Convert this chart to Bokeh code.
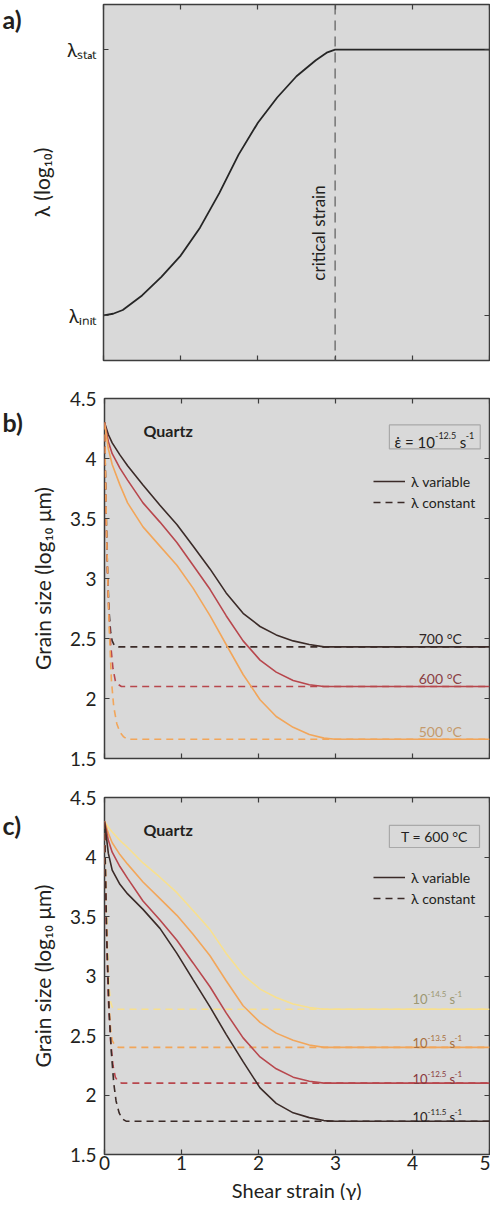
import math
from bokeh.plotting import figure
from bokeh.layouts import column, row
from bokeh.models import (Range1d, LinearAxis, FixedTicker, Label, Span, Legend,
                          LegendItem, BoxAnnotation)
from bokeh.embed import file_html
from bokeh.resources import INLINE

FONT = "Lato"
INK = "#231f20"
EDGE = "#3d3d3d"
PANEL_BG = "#d9d9d9"

# ---------------- data ----------------
# axes
strain_ticks = [0, 1, 2, 3, 4, 5]
grain_ticks = [1.5, 2.0, 2.5, 3.0, 3.5, 4.0, 4.5]

# (a) schematic evolution of lambda (0 = lambda_init, 1 = lambda_stat)
a_strain = [0.0, 0.125, 0.25, 0.5, 0.75, 1.0, 1.25, 1.5, 1.75, 2.0, 2.25, 2.5, 2.75, 2.9, 3.0, 5.0]
a_lambda = [0.0, 0.006, 0.02, 0.075, 0.145, 0.225, 0.33, 0.46, 0.605, 0.725, 0.82, 0.90, 0.96, 0.99, 1.0, 1.0]
a_tick_values = [0.0, 1.0]
a_tick_names = ["λᵢₙᵢₜ", "λₛₜₐₜ"]
critical_strain = 3.0

# (b) Quartz, strain rate 10^-12.5 s^-1, three temperatures
b_names = ["700 °C", "600 °C", "500 °C"]
b_var_x = [0, 0.05, 0.1, 0.2, 0.3, 0.5, 0.72, 0.94, 1.15, 1.37, 1.58, 1.8, 2.02, 2.23, 2.45, 2.66, 2.85, 3.0, 5.0]
b_var_700 = [4.3, 4.2, 4.13, 4.03, 3.94, 3.78, 3.61, 3.45, 3.27, 3.08, 2.88, 2.71, 2.60, 2.53, 2.48, 2.45, 2.43, 2.43, 2.43]
b_var_600 = [4.3, 4.14, 4.04, 3.92, 3.82, 3.63, 3.47, 3.30, 3.11, 2.91, 2.69, 2.48, 2.32, 2.22, 2.15, 2.115, 2.10, 2.10, 2.10]
b_var_500 = [4.3, 4.08, 3.95, 3.78, 3.63, 3.43, 3.27, 3.11, 2.92, 2.69, 2.45, 2.20, 1.99, 1.85, 1.76, 1.70, 1.67, 1.66, 1.66]
b_const_x_700 = [0, 0.02, 0.04, 0.06, 0.08, 0.1, 0.13, 0.18, 5.0]
b_const_700 = [4.3, 3.6, 3.05, 2.72, 2.55, 2.48, 2.44, 2.43, 2.43]
b_const_x_600 = [0, 0.02, 0.05, 0.08, 0.11, 0.14, 0.17, 0.22, 5.0]
b_const_600 = [4.3, 3.5, 2.8, 2.45, 2.25, 2.15, 2.12, 2.10, 2.10]
b_const_x_500 = [0, 0.03, 0.06, 0.09, 0.12, 0.16, 0.2, 0.25, 0.3, 5.0]
b_const_500 = [4.3, 3.3, 2.6, 2.15, 1.93, 1.79, 1.72, 1.68, 1.66, 1.66]

# (c) Quartz, T = 600 °C, four strain rates (exponents of 10, s^-1)
c_rates = ["-14.5", "-13.5", "-12.5", "-11.5"]
c_var_x = [0, 0.05, 0.1, 0.2, 0.3, 0.5, 0.72, 0.94, 1.15, 1.37, 1.58, 1.8, 2.02, 2.23, 2.45, 2.66, 2.85, 3.0, 5.0]
c_var_145 = [4.3, 4.25, 4.21, 4.14, 4.08, 3.95, 3.83, 3.70, 3.55, 3.39, 3.19, 3.01, 2.89, 2.82, 2.765, 2.735, 2.72, 2.72, 2.72]
c_var_135 = [4.3, 4.2, 4.12, 4.02, 3.94, 3.79, 3.65, 3.51, 3.35, 3.17, 2.96, 2.75, 2.61, 2.52, 2.46, 2.42, 2.40, 2.40, 2.40]
c_var_125 = [4.3, 4.14, 4.04, 3.92, 3.82, 3.63, 3.47, 3.30, 3.11, 2.91, 2.69, 2.48, 2.32, 2.22, 2.15, 2.115, 2.10, 2.10, 2.10]
c_var_115 = [4.3, 4.03, 3.89, 3.77, 3.69, 3.56, 3.40, 3.19, 2.97, 2.74, 2.51, 2.28, 2.06, 1.93, 1.85, 1.81, 1.785, 1.78, 1.78]
c_const_x_145 = [0, 0.02, 0.04, 0.06, 0.08, 0.1, 0.15, 5.0]
c_const_145 = [4.3, 3.7, 3.2, 2.9, 2.78, 2.74, 2.72, 2.72]
c_const_x_135 = [0, 0.02, 0.04, 0.06, 0.08, 0.1, 0.13, 0.18, 5.0]
c_const_135 = [4.3, 3.6, 3.1, 2.75, 2.55, 2.46, 2.42, 2.40, 2.40]
c_const_x_125 = [0, 0.02, 0.05, 0.08, 0.11, 0.14, 0.17, 0.22, 5.0]
c_const_125 = [4.3, 3.5, 2.8, 2.45, 2.25, 2.15, 2.12, 2.10, 2.10]
c_const_x_115 = [0, 0.03, 0.06, 0.09, 0.12, 0.15, 0.19, 0.23, 0.28, 5.0]
c_const_115 = [4.3, 3.3, 2.7, 2.35, 2.1, 1.95, 1.85, 1.80, 1.78, 1.78]
x_title = "Shear strain (γ)"

# ---------------- styles ----------------
DARK = "#3b2b28"
RED = "#b8474d"
ORANGE = "#f2a65a"
YELLOW = "#f8e08e"
b_colors = [DARK, RED, ORANGE]
b_text_colors = ["#2f2626", "#8a4043", "#c49a6c"]
c_colors = [YELLOW, ORANGE, RED, DARK]
c_text_colors = ["#9c9772", "#a8703e", "#8a3a3e", "#2b2322"]
c_label_lift = [14, 8, 8, 8]
DASH = "7 5"
TICK_SIZE = "19px"
LABEL_SIZE = "21px"
LETTER_W = 26

CHAR_W = {str(d): 0.58 for d in range(10)}
CHAR_W.update({".": 0.25, "-": 0.32, " ": 0.26, "s": 0.40, "=": 0.58,
               "ε": 0.45, "\u0307": 0.0, "T": 0.55, "°": 0.40, "C": 0.67})


def text_w(s, size):
    return sum(CHAR_W.get(ch, 0.55) for ch in s) * size


def style_axis(ax, ticks, show_labels, standoff=8):
    ax.axis_line_alpha = 0
    ax.major_tick_in = 5
    ax.major_tick_out = 0
    ax.minor_tick_in = 5
    ax.minor_tick_out = 0
    ax.major_tick_line_color = EDGE
    ax.minor_tick_line_color = EDGE
    ax.major_tick_line_width = 1.2
    ax.minor_tick_line_width = 1.2
    ax.axis_label_text_font = FONT
    ax.axis_label_text_font_style = "normal"
    ax.axis_label_text_color = INK
    ax.axis_label_text_font_size = LABEL_SIZE
    ax.major_label_text_font = FONT
    ax.major_label_text_font_size = TICK_SIZE
    ax.major_label_text_color = INK
    if show_labels:
        ax.ticker = FixedTicker(ticks=ticks)
        ax.major_label_standoff = standoff
    else:
        # ticks only, no labels: draw them as minor ticks
        ax.ticker = FixedTicker(ticks=[], minor_ticks=ticks)
        ax.major_label_standoff = 0


def make_panel(height, b_top, b_bottom, y_start, y_end, y_ticks, show_x):
    p = figure(width=490 - LETTER_W, height=height, x_range=Range1d(0, 5),
               y_range=Range1d(y_start, y_end), output_backend="svg",
               toolbar_location=None, min_border_left=103 - LETTER_W, min_border_right=1,
               min_border_top=b_top, min_border_bottom=b_bottom,
               background_fill_color=PANEL_BG, border_fill_color="white",
               outline_line_color=EDGE, outline_line_width=1.5)
    p.grid.visible = False
    p.add_layout(LinearAxis(), "above")
    p.add_layout(LinearAxis(), "right")
    style_axis(p.below[0], strain_ticks, show_x, standoff=3)
    style_axis(p.above[0], strain_ticks, False)
    style_axis(p.left[0], y_ticks, True)
    style_axis(p.right[0], y_ticks, False)
    return p


def letter_fig(height, letter, drop):
    f = figure(width=LETTER_W, height=height, x_range=Range1d(0, LETTER_W),
               y_range=Range1d(0, height), output_backend="svg", toolbar_location=None,
               min_border=0, x_axis_type=None, y_axis_type=None, outline_line_color=None,
               background_fill_color="white", border_fill_color="white")
    f.grid.visible = False
    f.add_layout(Label(x=2, y=height - drop, text=letter, text_font=FONT,
                       text_font_style="bold", text_font_size="25px", text_color=INK,
                       text_baseline="middle", text_align="left"))
    return f


def add_rich(p, x, y, pieces, align, x_pad, base_off, color, main_size, sup_size, rise):
    widths = []
    for t, sup, gap in pieces:
        sz = sup_size if sup else main_size
        widths.append((gap * main_size, text_w(t, sz)))
    total = sum(g + w for g, w in widths)
    cur = x_pad - total if align == "right" else x_pad
    for (t, sup, gap), (g, w) in zip(pieces, widths):
        cur += g
        p.add_layout(Label(x=x, y=y, x_offset=cur, y_offset=base_off + (rise if sup else 0),
                           text=t, text_align="left", text_baseline="alphabetic",
                           text_font=FONT, text_font_size=f"{sup_size if sup else main_size}px",
                           text_color=color))
        cur += w


def add_quartz(p):
    p.add_layout(Label(x=0, y=4.5, x_offset=39, y_offset=-32, text="Quartz",
                       text_font=FONT, text_font_style="bold", text_font_size="16px",
                       text_color=INK, text_baseline="middle"))


def add_legend(p, r_var, r_const):
    leg = Legend(items=[LegendItem(label="λ variable", renderers=[r_var]),
                        LegendItem(label="λ constant", renderers=[r_const])],
                 location=(269, 246), border_line_alpha=0, background_fill_alpha=0,
                 label_text_font=FONT, label_text_font_size="14px", label_text_color=INK,
                 glyph_width=32, glyph_height=20, label_height=20, spacing=1,
                 padding=0, margin=0, label_standoff=6)
    p.add_layout(leg)


# ---------------- panel a ----------------
pa = make_panel(380, 4, 20, -0.17, 1.17, a_tick_values, False)
pa.left[0].major_label_overrides = {v: n for v, n in zip(a_tick_values, a_tick_names)}
pa.left[0].major_label_standoff = 7
pa.left[0].axis_label = "λ (log₁₀)"
pa.left[0].axis_label_standoff = 10
pa.line(a_strain, a_lambda, line_color="#262626", line_width=1.8)
pa.add_layout(Span(location=critical_strain, dimension="height", line_color="#5a5a5a",
                   line_dash="10 6", line_width=1.2))
pa.add_layout(Label(x=critical_strain, y=0.31, x_offset=-6, angle=math.pi / 2,
                    text="critical strain", text_align="center", text_baseline="bottom",
                    text_font=FONT, text_font_size="17px", text_color=INK))

# ---------------- panel b ----------------
pb = make_panel(398, 18, 20, 1.5, 4.5, grain_ticks, False)
pb.left[0].axis_label = "Grain size (log₁₀ μm)"
pb.left[0].axis_label_standoff = 12
b_const = [(b_const_x_700, b_const_700), (b_const_x_600, b_const_600), (b_const_x_500, b_const_500)]
b_var = [b_var_700, b_var_600, b_var_500]
b_const_r = []
for (xs, ys), col in zip(b_const, b_colors):
    b_const_r.append(pb.line(xs, ys, line_color=col, line_width=1.6, line_dash=DASH))
b_var_r = []
for ys, col in zip(b_var, b_colors):
    b_var_r.append(pb.line(b_var_x, ys, line_color=col, line_width=1.6))
for name, ys, tcol in zip(b_names, b_var, b_text_colors):
    pb.add_layout(Label(x=4.64, y=ys[-1], y_offset=8, text=name, text_align="right",
                        text_baseline="middle", text_font=FONT, text_font_size="14px",
                        text_color=tcol))
add_quartz(pb)
pb.add_layout(BoxAnnotation(left=3.70, right=4.88, top=4.28, bottom=4.08, fill_alpha=0,
                            line_color=EDGE, line_width=1.2))
add_rich(pb, 3.70, 4.18, [("ε\u0307 = 10", False, 0), ("-12.5", True, 0),
                          ("s", False, 0.26), ("-1", True, 0)],
         "left", 5, -5, INK, 15, 9, 6)
add_legend(pb, b_var_r[0], b_const_r[0])

# ---------------- panel c ----------------
pc = make_panel(400, 19, 24, 1.5, 4.5, grain_ticks, True)
pc.left[0].axis_label = "Grain size (log₁₀ μm)"
pc.left[0].axis_label_standoff = 12
pc.below[0].major_label_standoff = 1
c_const = [(c_const_x_145, c_const_145), (c_const_x_135, c_const_135),
           (c_const_x_125, c_const_125), (c_const_x_115, c_const_115)]
c_var = [c_var_145, c_var_135, c_var_125, c_var_115]
c_const_r = []
for (xs, ys), col in zip(c_const, c_colors):
    c_const_r.append(pc.line(xs, ys, line_color=col, line_width=1.6, line_dash=DASH))
c_var_r = []
for ys, col in zip(c_var, c_colors):
    c_var_r.append(pc.line(c_var_x, ys, line_color=col, line_width=1.6))
for rate, ys, tcol, lift in zip(c_rates, c_var, c_text_colors, c_label_lift):
    add_rich(pc, 4.64, ys[-1], [("10", False, 0), (rate, True, 0), ("s", False, 0.26),
                                ("-1", True, 0)],
             "right", 0, lift - 4, tcol, 13, 8, 5)
add_quartz(pc)
pc.add_layout(BoxAnnotation(left=3.70, right=4.87, top=4.265, bottom=4.08, fill_alpha=0,
                            line_color=EDGE, line_width=1.2))
pc.add_layout(Label(x=4.285, y=4.1725, text="T = 600 °C", text_align="center",
                    text_baseline="middle", text_font=FONT, text_font_size="14px",
                    text_color=INK))
add_legend(pc, c_var_r[3], c_const_r[3])

# x-axis title strip below panel c (same horizontal frame as the panels)
strip = figure(width=490, height=22, x_range=Range1d(0, 5), y_range=Range1d(0, 1),
               output_backend="svg", toolbar_location=None, min_border_left=103,
               min_border_right=1, min_border_top=0, min_border_bottom=0,
               x_axis_type=None, y_axis_type=None, outline_line_color=None,
               background_fill_color="white", border_fill_color="white")
strip.grid.visible = False
strip.add_layout(Label(x=2.5, y=0.5, text=x_title, text_align="center",
                       text_baseline="middle", text_font=FONT,
                       text_font_size="20px", text_color=INK))

la = letter_fig(380, "a)", 16)
lb = letter_fig(398, "b)", 26)
lc = letter_fig(400, "c)", 31)

layout = column(row(la, pa, spacing=0), row(lb, pb, spacing=0),
                row(lc, pc, spacing=0), strip, spacing=0)
open("out.html", "w").write(file_html(layout, INLINE))
